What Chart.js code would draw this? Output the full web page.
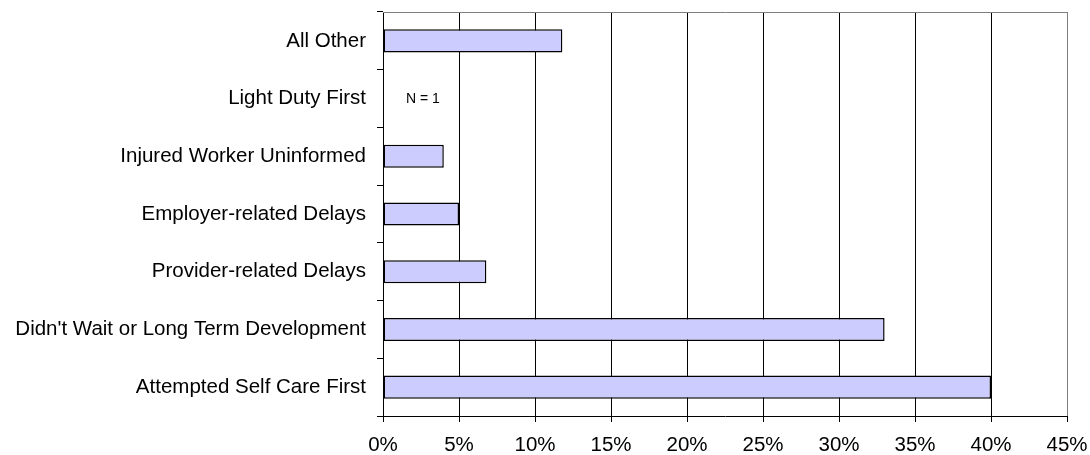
<!DOCTYPE html>
<html>
<head>
<meta charset="utf-8">
<script src="https://cdn.jsdelivr.net/npm/chart.js@4/dist/chart.umd.min.js"></script>
<style>
  html, body { margin: 0; padding: 0; background: #fff; }
  #wrap { width: 1090px; height: 455px; }
</style>
</head>
<body>
<div id="wrap"><canvas id="chart"></canvas></div>
<script>
const categories = [
  "All Other",
  "Light Duty First",
  "Injured Worker Uninformed",
  "Employer-related Delays",
  "Provider-related Delays",
  "Didn't Wait or Long Term Development",
  "Attempted Self Care First",
];
// percent of cases; Light Duty First has a single case and no bar
const shares = [11.8, null, 4.0, 5.0, 6.8, 33.0, 40.0];
const xTicks = [0, 5, 10, 15, 20, 25, 30, 35, 40, 45];
const notes = [{ category: "Light Duty First", text: "N = 1" }];

const font = "'Liberation Sans', Arial, sans-serif";

const frame = {
  id: "frame",
  afterDatasetsDraw(chart) {
    const { ctx, chartArea, scales } = chart;
    ctx.save();
    // light plot-area outline on top and right
    ctx.strokeStyle = "#808080";
    ctx.lineWidth = 1;
    ctx.beginPath();
    ctx.moveTo(chartArea.left, Math.round(chartArea.top) + 0.5);
    ctx.lineTo(Math.round(chartArea.right) + 0.5, Math.round(chartArea.top) + 0.5);
    ctx.lineTo(Math.round(chartArea.right) + 0.5, chartArea.bottom);
    ctx.stroke();
    // small notes next to the axis
    ctx.fillStyle = "#000";
    ctx.font = "14px " + font;
    ctx.textAlign = "left";
    ctx.textBaseline = "middle";
    notes.forEach((n) => {
      const y = scales.y.getPixelForValue(categories.indexOf(n.category));
      ctx.fillText(n.text, scales.x.getPixelForValue(0) + 23, y + 1);
    });
    ctx.restore();
  },
};

new Chart(document.getElementById("chart"), {
  type: "bar",
  data: {
    labels: categories,
    datasets: [
      {
        data: shares,
        backgroundColor: "#ccccff",
        borderColor: "#000",
        borderWidth: 1.5,
        borderSkipped: false,
        barPercentage: 0.4,
        categoryPercentage: 1,
      },
    ],
  },
  options: {
    indexAxis: "y",
    responsive: true,
    maintainAspectRatio: false,
    animation: false,
    layout: { padding: { top: 12, right: 23, bottom: 0, left: 0 } },
    plugins: {
      legend: { display: false },
      tooltip: { enabled: false },
    },
    scales: {
      x: {
        min: 0,
        max: 45,
        afterBuildTicks: (scale) => {
          scale.ticks = xTicks.map((v) => ({ value: v }));
        },
        afterFit: (scale) => {
          scale.height = 39;
          scale.paddingLeft = 0;
          scale.paddingRight = 0;
        },
        grid: {
          color: (c) => (c.tick && c.tick.value === 45 ? "#808080" : "#000"),
          lineWidth: 1,
          tickLength: 6,
          tickColor: "#000",
        },
        border: { color: "#000", width: 1 },
        ticks: {
          color: "#000",
          padding: 11,
          font: { size: 20.5, family: font },
          callback: (v) => v + "%",
        },
      },
      y: {
        afterFit: (scale) => {
          scale.width = 383;
          scale.paddingTop = 0;
          scale.paddingBottom = 0;
        },
        grid: {
          drawOnChartArea: false,
          tickLength: 6,
          color: "#000",
        },
        border: { color: "#000", width: 1 },
        ticks: {
          color: "#000",
          padding: 11,
          font: { size: 20.5, family: font },
        },
      },
    },
  },
  plugins: [frame],
});
</script>
</body>
</html>
